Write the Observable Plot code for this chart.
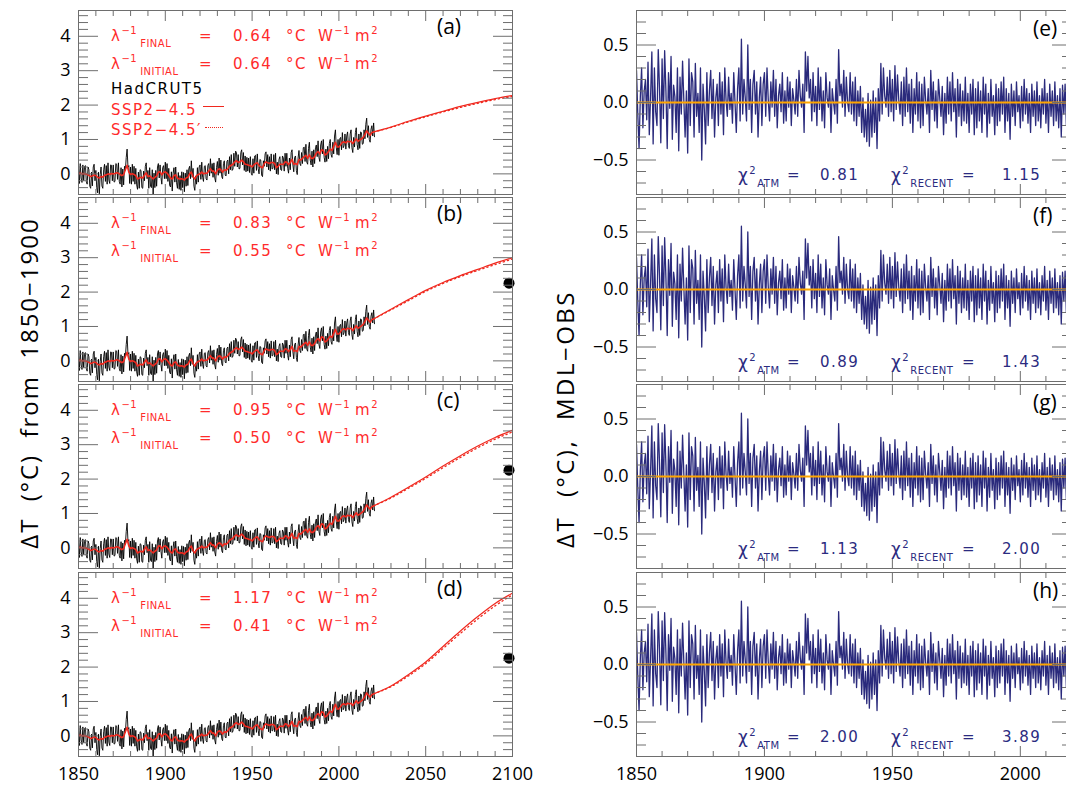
<!DOCTYPE html>
<html><head><meta charset="utf-8">
<script src="https://cdn.jsdelivr.net/npm/d3@7"></script>
<script src="https://cdn.jsdelivr.net/npm/@observablehq/plot@0.6"></script>
<style>
html,body{margin:0;padding:0;background:#fff;overflow:hidden;}
#fig{position:relative;width:1066px;height:788px;overflow:hidden;background:#fff;}
#fig svg{position:absolute;overflow:visible;}
.ann{position:absolute;white-space:nowrap;font-family:"DejaVu Sans",sans-serif;font-size:15px;line-height:18px;letter-spacing:1.5px;z-index:5;}
.red{color:#ff2b2b;}
.navy{color:#2b2b80;}
.blk{color:#000;}
.sup{font-size:10px;position:relative;top:-7px;letter-spacing:0.5px;}
.sub{font-size:10px;position:relative;top:6px;letter-spacing:0.5px;margin-left:3px;}
.chi{font-size:17px;}
.plab{position:absolute;font-family:"Open Sans",sans-serif;font-size:21px;line-height:24px;color:#000;z-index:5;}
.ylab{position:absolute;font-family:"Open Sans",sans-serif;font-size:24px;white-space:nowrap;color:#000;transform:translate(-50%,-50%) rotate(-90deg);z-index:5;}
.key{position:absolute;z-index:5;height:0;}
</style></head>
<body><div id="fig"></div>
<script>
// ---------------- data ----------------
// HadCRUT5 observations, half-yearly values from 1850.0 (deg C relative to 1850-1900)
const obsStart = 1850, obsStep = 0.5;
const obs = [
 0.22,-0.28, 0.30,-0.12,-0.25,0.26,-0.20,0.22, 0.24,-0.22,-0.30,0.20, 0.12,-0.36,-0.42,0.05,-0.35,0.20, 0.28,-0.20,
 0.10,-0.40,-0.55,0.05,-0.58,-0.02, 0.20,-0.35,-0.42,0.12, 0.28,-0.22, 0.24,-0.30, 0.32,-0.18,-0.28,0.26, 0.25,-0.20,
 0.26,-0.24,-0.22,0.30, 0.28,-0.16, 0.32,-0.22,-0.30,0.18,-0.38,0.14,-0.32,0.22, 0.10,0.48, 0.72,0.20, 0.24,-0.28,
 0.20,-0.30, 0.28,-0.22, 0.22,-0.30, 0.16,-0.32,-0.45,0.05,-0.42,0.12, 0.10,-0.40,-0.42,0.08,-0.20,0.22, 0.32,-0.14,
 0.10,-0.42, 0.18,-0.36,-0.40,0.12,-0.62,0.02,-0.40,0.10,-0.36,0.20, 0.30,-0.12, 0.26,-0.10,-0.30,0.18, 0.24,-0.14,
 0.34,-0.14, 0.30,-0.22, 0.16,-0.34,-0.38,0.06,-0.50,0.02, 0.18,-0.24, 0.20,-0.26,-0.42,0.04,-0.45,-0.05,-0.48,0.06,
-0.40,0.04,-0.52,0.02,-0.36,0.12,-0.34,0.14, 0.22,-0.14, 0.38,-0.10, 0.16,-0.36,-0.48,-0.06,-0.30,0.18,-0.24,0.20,
 0.26,-0.16, 0.34,-0.10,-0.22,0.22, 0.24,-0.14,-0.18,0.24, 0.30,-0.06, 0.44,0.02, 0.30,-0.10, 0.32,-0.12,-0.24,0.18,
 0.36,-0.04, 0.46,0.02, 0.40,-0.08,-0.14,0.30, 0.38,-0.04,-0.06,0.36, 0.40,0.00, 0.50,0.12, 0.56,0.10, 0.14,0.60,
 0.22,0.66, 0.62,0.20, 0.56,0.14, 0.16,0.62, 0.70,0.26, 0.62,0.10, 0.52,0.06, 0.48,0.08, 0.46,0.04, 0.50,0.02,
-0.04,0.44, 0.02,0.52, 0.54,0.10, 0.58,0.16, 0.00,0.42, 0.40,-0.04,-0.08,0.38, 0.22,0.58, 0.64,0.20, 0.56,0.12,
 0.50,0.08, 0.58,0.14, 0.16,0.56, 0.12,0.60, 0.00,0.34,-0.02,0.42, 0.50,0.12, 0.10,0.52, 0.46,0.08, 0.60,0.22,
 0.60,0.16, 0.02,0.46, 0.12,0.62, 0.70,0.26, 0.06,0.48, 0.52,0.10,-0.02,0.46, 0.68,0.30, 0.24,0.62, 0.30,0.76,
 0.78,0.36, 0.86,0.34, 0.28,0.74, 0.92,0.40, 0.26,0.66, 0.20,0.70, 0.30,0.76, 0.84,0.50, 0.96,0.48, 0.36,0.84,
 0.96,0.58, 1.00,0.48, 0.34,0.72, 0.36,0.80, 0.44,0.88, 1.00,0.56, 0.48,0.92, 0.58,1.10, 1.28,0.76, 0.56,1.00,
 0.54,1.02, 1.06,0.70, 1.20,0.76, 0.82,1.16, 0.72,1.10, 1.22,0.82, 0.74,1.16, 1.28,0.76, 0.62,1.06, 0.78,1.20,
 1.34,0.86, 0.70,1.16, 0.74,1.22, 1.20,0.86, 0.88,1.28, 1.02,1.44, 1.62,1.06, 1.40,1.00, 0.92,1.30, 1.40,1.10,
 1.48,1.08];

// Model (SSP2-4.5) historical, annual 1850-2020
const histStart = 1850;
const modelHist = [
 0.00,0.02,0.00,0.01,0.00,-0.02,-0.04,-0.08,-0.06,-0.03,
-0.05,-0.10,-0.12,-0.08,-0.10,-0.04,-0.03,0.00,-0.02,0.01,
 0.00,0.01,0.03,0.02,-0.02,-0.05,-0.02,0.12,0.25,0.05,
-0.02,0.00,-0.02,-0.05,-0.15,-0.12,-0.10,-0.12,-0.04,0.03,
-0.08,-0.06,-0.10,-0.15,-0.10,-0.06,0.05,0.06,-0.03,0.04,
 0.06,0.02,-0.05,-0.12,-0.15,-0.05,-0.03,-0.12,-0.15,-0.14,
-0.15,-0.18,-0.12,-0.10,0.00,0.05,-0.08,-0.15,-0.05,-0.02,
 0.00,0.05,0.00,0.02,0.02,0.08,0.15,0.08,0.08,0.00,
 0.10,0.15,0.12,0.05,0.12,0.10,0.15,0.22,0.25,0.28,
 0.35,0.38,0.33,0.35,0.40,0.35,0.28,0.27,0.25,0.24,
 0.20,0.26,0.30,0.32,0.24,0.20,0.18,0.30,0.35,0.32,
 0.30,0.33,0.33,0.30,0.18,0.22,0.28,0.28,0.27,0.35,
 0.34,0.27,0.33,0.42,0.28,0.30,0.27,0.42,0.40,0.45,
 0.50,0.54,0.45,0.55,0.45,0.45,0.50,0.60,0.65,0.58,
 0.70,0.68,0.55,0.58,0.65,0.72,0.68,0.80,0.92,0.78,
 0.78,0.85,0.92,0.93,0.90,0.95,0.93,0.95,0.88,0.95,
 1.02,0.95,0.98,1.02,1.06,1.15,1.25,1.18,1.12,1.20,
 1.22];

// Projections 2020-2100 (solid SSP2-4.5 and dotted SSP2-4.5'), panels a-d
const projYears = [2020,2030,2040,2050,2060,2070,2080,2090,2100];
const projA  = [1.22,1.36,1.53,1.68,1.82,1.96,2.08,2.19,2.28];
const projA2 = [1.22,1.35,1.51,1.66,1.80,1.93,2.05,2.16,2.25];
const projB  = [1.22,1.50,1.78,2.05,2.28,2.48,2.66,2.84,3.00];
const projB2 = [1.22,1.48,1.75,2.02,2.25,2.45,2.63,2.80,2.96];
const projC  = [1.22,1.47,1.76,2.06,2.38,2.68,2.96,3.21,3.42];
const projC2 = [1.22,1.45,1.73,2.02,2.33,2.63,2.91,3.16,3.37];
const projD  = [1.22,1.45,1.78,2.15,2.60,3.05,3.47,3.85,4.15];
const projD2 = [1.22,1.43,1.74,2.10,2.54,2.98,3.40,3.78,4.10];

// Black dot (panels b-d)
const dotYear = 2098, dotValue = 2.26;

// Residuals MDL-OBS, half-yearly from 1850.0
const residStart = 1850, residStep = 0.5;
const resid = [
 0.28,-0.10,-0.40,0.05, 0.30,-0.22, 0.10,0.20,-0.15,0.35,-0.28,0.05, 0.44,-0.36, 0.30,-0.08,-0.20,0.46, 0.12,-0.35,
 0.38,-0.14, 0.45,0.10,-0.40,0.26,-0.05,0.40,-0.32,0.15, 0.05,-0.26, 0.30,-0.42, 0.22,-0.10, 0.36,0.02,-0.30,0.10,
-0.44,0.38,-0.20,0.26, 0.18,-0.30, 0.34,-0.12, 0.08,-0.26, 0.30,-0.50, 0.16,-0.06,-0.36,0.26,-0.20,0.10, 0.28,-0.14,
 0.20,-0.30, 0.04,0.16,-0.20,0.26,-0.10,0.18,-0.28,0.30, 0.02,-0.12, 0.22,-0.06, 0.08,-0.18, 0.26,0.00,-0.26,0.12,
 0.30,-0.16, 0.55,-0.10, 0.20,0.04,-0.16,0.50,-0.06,0.20,-0.26,0.16, 0.28,-0.10, 0.18,-0.30, 0.04,0.22,-0.20,0.16,
 0.26,-0.12, 0.30,0.02,-0.16,0.18,-0.04,0.28,-0.12,0.20,-0.22,0.06, 0.16,-0.08, 0.26,-0.18, 0.10,-0.16, 0.22,-0.04,
 0.18,-0.20, 0.12,0.02,-0.10,0.20,-0.12,0.28, 0.06,-0.04, 0.16,-0.26, 0.44,0.10, 0.40,0.04, 0.20,-0.16, 0.26,-0.08,
 0.14,-0.20, 0.30,-0.06, 0.22,-0.16, 0.10,-0.22, 0.26,0.04,-0.04,0.18,-0.26,0.12, 0.00,-0.10, 0.20,-0.18, 0.46,0.06,
 0.16,-0.04, 0.28,-0.12, 0.22,0.00,-0.08,0.26,-0.10,0.18,-0.16,0.22,-0.20,0.10,-0.12,0.14,-0.26,0.04,-0.30,-0.06,
-0.34,0.08,-0.38,0.02,-0.30,0.10,-0.26,0.04,-0.40,0.12,-0.16,0.34,-0.10,0.30, 0.06,-0.04, 0.22,-0.12, 0.28,-0.08,
 0.20,-0.16, 0.32,-0.06, 0.24,0.02,-0.10,0.18,-0.20,0.22,-0.12,0.30,-0.08,0.16,-0.18,0.20,-0.26,0.12,-0.10,0.26,
-0.16,0.18,-0.22,0.16,-0.20,0.22, 0.02,-0.10, 0.12,-0.26, 0.28,-0.06, 0.18,-0.16, 0.10,-0.22, 0.20,0.04,-0.12,0.14,
-0.28,0.08,-0.18,0.22,-0.10,0.18,-0.16,0.26,-0.08,0.12,-0.30,0.20,-0.12,0.16,-0.20,0.10,-0.16,0.22,-0.18,0.08,
-0.26,0.16,-0.10,0.20,-0.28,0.12,-0.22,0.18,-0.16,0.10,-0.26,0.22,-0.10,0.16,-0.30,0.08,-0.18,0.20,-0.12,0.06,
-0.28,0.16,-0.20,0.12,-0.16,0.18,-0.10,0.22,-0.26,0.12,-0.16,0.08,-0.32,0.16,-0.12,0.10,-0.20,0.18,-0.08,0.06,
-0.22,0.14,-0.16,0.20,-0.10,0.12,-0.18,0.08,-0.26,0.16,-0.12,0.10,-0.20,0.18,-0.16,0.06,-0.22,0.12,-0.10,0.20,
-0.18,0.08,-0.26,0.16,-0.12,0.10,-0.20,0.18,-0.16,0.06,-0.22,0.12,-0.30,0.15,-0.10,0.16,-0.20,0.10,-0.26,0.12,
-0.16,-0.34];

// Text values
const leftLabels = ["(a)","(b)","(c)","(d)"];
const rightLabels = ["(e)","(f)","(g)","(h)"];
const lamFinal = ["0.64","0.83","0.95","1.17"];
const lamInitial = ["0.64","0.55","0.50","0.41"];
const chiAtm = ["0.81","0.89","1.13","2.00"];
const chiRecent = ["1.15","1.43","2.00","3.89"];
const legendNames = ["HadCRUT5","SSP2\u22124.5","SSP2\u22124.5\u2032"];

// Axis ticks
const leftXTicks = [1850,1900,1950,2000,2050,2100];
const rightXTicks = [1850,1900,1950,2000];
const leftYTicks = [0,1,2,3,4];
const rightYTicks = [-0.5,0,0.5];
const leftXMinor = d3.range(1860,2100,10).filter(v => v % 50 !== 0);
const rightXMinor = d3.range(1860,2021,10).filter(v => v % 50 !== 0);
const leftYMinor = d3.range(-2,24).filter(k => k % 5 !== 0).map(k => k/5);
const rightYMinor = d3.range(-7,8).filter(k => k % 5 !== 0).map(k => k/10);

// ---------------- layout ----------------
const RED = "#f0281e", NAVY = "#2a2a7c", ORANGE = "#ffa500", FRAME = "#6e6e6e";
const TOP0 = 9.5, PITCH = 187.4, PH = 184;
const FONT = '"Open Sans", sans-serif';
const fig = document.getElementById("fig");

function axes(xMaj, xMin, yMaj, yMin, yFmt, showX) {
  const tk = {fill: "none", label: null, stroke: FRAME};
  return [
    Plot.axisY(yMaj, {anchor: "left", tickSize: 0, tickPadding: 8, tickFormat: yFmt, label: null, fontSize: 18}),
    Plot.axisY(yMaj, {anchor: "left", tickSize: 20, dx: 20, ...tk}),
    Plot.axisY(yMin, {anchor: "left", tickSize: 10, dx: 10, ...tk}),
    Plot.axisY(yMaj, {anchor: "right", tickSize: 20, dx: -20, ...tk}),
    Plot.axisY(yMin, {anchor: "right", tickSize: 10, dx: -10, ...tk}),
    Plot.axisX(xMaj, {anchor: "bottom", tickSize: 10, dy: -10, ...tk}),
    Plot.axisX(xMin, {anchor: "bottom", tickSize: 5, dy: -5, ...tk}),
    Plot.axisX(xMaj, {anchor: "top", tickSize: 10, dy: 10, ...tk}),
    Plot.axisX(xMin, {anchor: "top", tickSize: 5, dy: 5, ...tk}),
    showX ? Plot.axisX(xMaj, {anchor: "bottom", tickSize: 0, tickPadding: 11, tickFormat: d => String(d), label: null, fontSize: 18}) : null,
    Plot.frame({stroke: FRAME})
  ];
}

function put(svg, left, top) {
  svg.style.left = left + "px";
  svg.style.top = top + "px";
  fig.appendChild(svg);
}
function txt(html, left, top, cls) {
  const d = document.createElement("div");
  d.className = cls;
  d.innerHTML = html;
  d.style.left = left + "px";
  d.style.top = top + "px";
  fig.appendChild(d);
  return d;
}

const projs = [[projA, projA2], [projB, projB2], [projC, projC2], [projD, projD2]];

for (let i = 0; i < 4; i++) {
  const top = TOP0 + i * PITCH;
  const showX = i === 3;
  const mt = 1, mb = showX ? 36 : 1;
  const [p1, p2] = projs[i];
  const proj1 = projYears.map((yr, k) => ({yr, v: p1[k]}));
  const proj2 = projYears.map((yr, k) => ({yr, v: p2[k]}));
  const left = Plot.plot({
    width: 530, height: PH + mt + mb,
    marginLeft: 78, marginRight: 18, marginTop: mt, marginBottom: mb,
    style: {fontFamily: FONT, fontSize: "18px", color: "#000", background: "transparent"},
    x: {domain: [1850, 2100]},
    y: {domain: [-0.6, 4.75]},
    marks: [
      Plot.lineY(obs, {x: (d, j) => obsStart + j * obsStep, y: d => d, stroke: "#000", strokeWidth: 0.9, clip: true}),
      Plot.lineY(modelHist, {x: (d, j) => histStart + j, y: d => d, stroke: RED, strokeWidth: 1.6, clip: true}),
      Plot.line(proj2, {x: "yr", y: "v", curve: "monotone-x", stroke: RED, strokeWidth: 1.3, strokeDasharray: "1.3,3", clip: true}),
      Plot.line(proj1, {x: "yr", y: "v", curve: "monotone-x", stroke: RED, strokeWidth: 1.2, clip: true}),
      i > 0 ? Plot.dot([{yr: dotYear, v: dotValue}], {x: "yr", y: "v", r: 5.5, fill: "#000", stroke: "none"}) : null,
      ...axes(leftXTicks, leftXMinor, leftYTicks, leftYMinor, d => String(d), showX)
    ]
  });
  put(left, 0, top - mt);

  const right = Plot.plot({
    width: 513, height: PH + mt + mb,
    marginLeft: 76, marginRight: 2, marginTop: mt, marginBottom: mb,
    style: {fontFamily: FONT, fontSize: "18px", color: "#000", background: "transparent"},
    x: {domain: [1850, 2020]},
    y: {domain: [-0.8, 0.8]},
    marks: [
      Plot.lineY(resid, {x: (d, j) => residStart + j * residStep, y: d => d, stroke: NAVY, strokeWidth: 1.3, clip: true}),
      Plot.ruleY([0], {stroke: ORANGE, strokeWidth: 2}),
      ...axes(rightXTicks, rightXMinor, rightYTicks, rightYMinor, d3.format(".1f"), showX)
    ]
  });
  put(right, 560, top - mt);

  // panel labels
  txt(leftLabels[i], 437, top + 4, "plab");
  txt(rightLabels[i], 1033, top + 6, "plab");

  // lambda annotation (red)
  const r1 = top + 26 - 9, r2 = top + 54 - 9;
  const lam = s => `\u03bb<span class="sup">\u22121</span><span class="sub">${s}</span>`;
  [[r1, "FINAL", lamFinal[i]], [r2, "INITIAL", lamInitial[i]]].forEach(([y, s, v]) => {
    txt(lam(s), 111, y, "ann red");
    txt("=", 199, y, "ann red");
    txt(v, 233, y, "ann red");
    txt("\u00b0C", 286, y, "ann red");
    txt('W<span class="sup">\u22121</span>', 318, y, "ann red");
    txt('m<span class="sup">2</span>', 355, y, "ann red");
  });

  // chi-square annotation (navy)
  const cy = top + 165 - 9;
  txt(`<span class="chi">\u03c7</span><span class="sup">2</span><span class="sub" style="margin-left:1px">ATM</span>`, 738, cy, "ann navy");
  txt("=", 787, cy, "ann navy");
  txt(chiAtm[i], 820, cy, "ann navy");
  txt(`<span class="chi">\u03c7</span><span class="sup">2</span><span class="sub" style="margin-left:1px">RECENT</span>`, 891, cy, "ann navy");
  txt("=", 962, cy, "ann navy");
  txt(chiRecent[i], 1002, cy, "ann navy");

  if (i === 0) {
    txt(legendNames[0], 111, top + 79 - 9, "ann blk");
    txt(legendNames[1], 111, top + 100 - 9, "ann red");
    txt(legendNames[2], 111, top + 120 - 9, "ann red");
    const k1 = document.createElement("div");
    k1.className = "key";
    Object.assign(k1.style, {left: "203px", top: (top + 96) + "px", width: "21px", borderTop: "1.5px solid " + RED});
    fig.appendChild(k1);
    const k2 = document.createElement("div");
    k2.className = "key";
    Object.assign(k2.style, {left: "205px", top: (top + 117) + "px", width: "18px", borderTop: "1.5px dotted " + RED});
    fig.appendChild(k2);
  }
}

// axis titles
const yl = txt("\u0394T (\u00b0C) from 1850\u22121900", 28, 383, "ylab");
yl.style.letterSpacing = "2px"; yl.style.wordSpacing = "8px";
const yr = txt("\u0394T (\u00b0C), MDL\u2212OBS", 564, 419, "ylab");
yr.style.letterSpacing = "2.5px"; yr.style.wordSpacing = "10px";
</script>
</body></html>
